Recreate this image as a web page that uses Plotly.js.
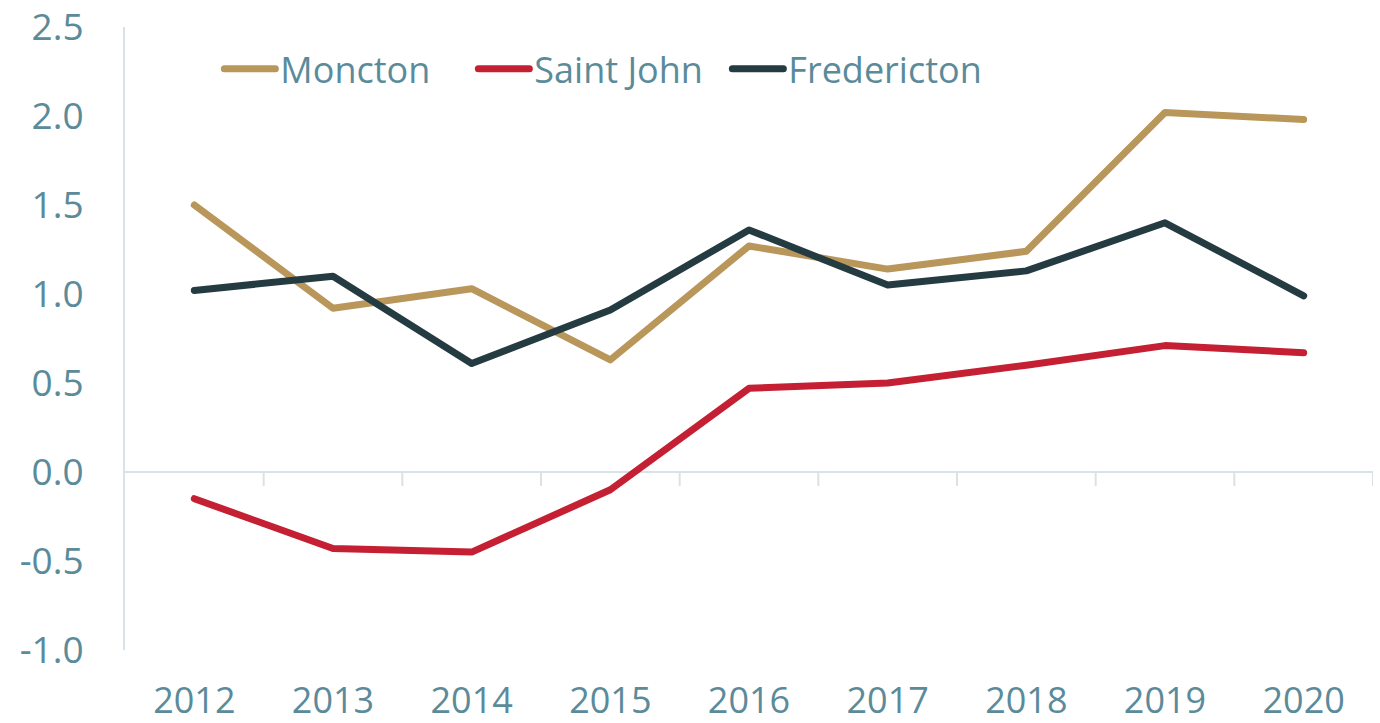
<!DOCTYPE html>
<html>
<head>
<meta charset="utf-8">
<script src="https://cdn.plot.ly/plotly-3.0.1.min.js"></script>
<style>
  html, body { margin: 0; padding: 0; background: #ffffff; }
  #chart { width: 1380px; height: 723px; }
  .scatterlayer path.js-line, .legend path.js-line { stroke-linecap: round; stroke-linejoin: round; }
</style>
</head>
<body>
<div id="chart"></div>
<script>
const years = ['2012', '2013', '2014', '2015', '2016', '2017', '2018', '2019', '2020'];
const moncton = [1.50, 0.92, 1.03, 0.63, 1.27, 1.14, 1.24, 2.02, 1.98];
const saintJohn = [-0.15, -0.43, -0.45, -0.10, 0.47, 0.50, 0.60, 0.71, 0.67];
const fredericton = [1.02, 1.10, 0.61, 0.91, 1.36, 1.05, 1.13, 1.40, 0.99];
const yTickVals = [-1.0, -0.5, 0.0, 0.5, 1.0, 1.5, 2.0, 2.5];
const yTickText = ['-1.0', '-0.5', '0.0', '0.5', '1.0', '1.5', '2.0', '2.5'];

const textColor = '#5b8b9a';
const axisColor = '#d8e2e7';
const fontFamily = '"Open Sans", "Noto Sans", sans-serif';

function series(name, values, color) {
  return {
    type: 'scatter', mode: 'lines', name: name,
    x: years, y: values,
    line: { color: color, width: 7 },
    hovertemplate: name + ' %{x}: %{y:.2f}<extra></extra>'
  };
}

const data = [
  series('Moncton', moncton, '#b9965a'),
  series('Saint John', saintJohn, '#c41f32'),
  series('Fredericton', fredericton, '#253b42')
];

// category-boundary tick marks hanging from the zero line
const shapes = [];
for (let i = 1; i <= years.length; i++) {
  shapes.push({
    type: 'line', xref: 'x', yref: 'y',
    x0: i - 0.5, x1: i - 0.5,
    ysizemode: 'pixel', yanchor: 0, y0: 0, y1: -14,
    line: { color: axisColor, width: 2 }
  });
}

const layout = {
  width: 1380, height: 723,
  margin: { l: 125, r: 7, t: 27, b: 73 },
  paper_bgcolor: '#ffffff', plot_bgcolor: '#ffffff',
  font: { family: fontFamily, size: 37, color: textColor },
  showlegend: true,
  legend: {
    orientation: 'h', x: 0.0756, xanchor: 'left', y: 0.933, yanchor: 'middle',
    font: { family: fontFamily, size: 36, color: textColor },
    bgcolor: 'rgba(0,0,0,0)', itemwidth: 51,
    entrywidth: 188, entrywidthmode: 'pixels'
  },
  xaxis: {
    type: 'category', categoryorder: 'array', categoryarray: years,
    range: [-0.5, years.length - 0.5],
    showgrid: false, zeroline: false, showline: false, ticks: '',
    ticklabelstandoff: 26, ticklabeloverflow: 'allow',
    tickfont: { family: fontFamily, size: 36, color: textColor },
    fixedrange: true
  },
  yaxis: {
    range: [-1.0, 2.5],
    tickvals: yTickVals, ticktext: yTickText,
    showgrid: false,
    zeroline: true, zerolinecolor: axisColor, zerolinewidth: 2,
    showline: true, linecolor: axisColor, linewidth: 2,
    ticks: '', ticklabelstandoff: 32, ticklabeloverflow: 'allow',
    tickfont: { family: fontFamily, size: 37, color: textColor },
    fixedrange: true
  },
  shapes: shapes
};

Plotly.newPlot('chart', data, layout, { displayModeBar: false });
</script>
</body>
</html>
